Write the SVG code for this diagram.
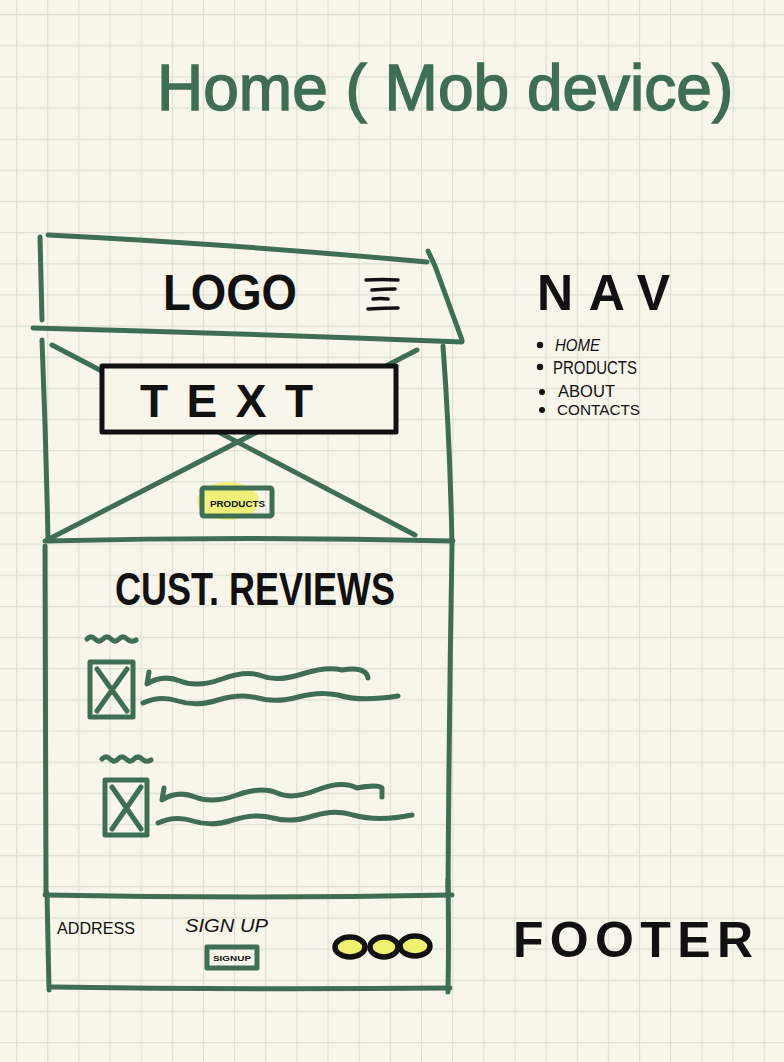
<svg xmlns="http://www.w3.org/2000/svg" width="784" height="1062" viewBox="0 0 784 1062">
  <defs>
    <pattern id="grid" x="16" y="14" width="31.15" height="31.15" patternUnits="userSpaceOnUse">
      <path d="M0.5,0 V31.15 M0,0.5 H31.15" fill="none" stroke="#DCDFD2" stroke-width="1.3"/>
    </pattern>
    <style>
      .pen { fill: none; stroke: #3E6E54; stroke-width: 5; stroke-linecap: round; stroke-linejoin: round; }
      .ink { fill: none; stroke: #111; stroke-linecap: round; stroke-linejoin: round; }
      .marker { font-family: "Liberation Sans", Arial, sans-serif; font-weight: bold; fill: #111; }
      .thin { font-family: "Liberation Sans", Arial, sans-serif; fill: #111; }
      .tiny { font-family: "Liberation Sans", Arial, sans-serif; fill: #111; font-weight: bold; }
      .hl { fill: #EEF06E; }
    </style>
  </defs>

  <!-- paper -->
  <rect width="784" height="1062" fill="#F8F6EA"/>
  <rect width="784" height="1062" fill="url(#grid)"/>

  <!-- page title -->
  <g id="title">
    <text x="157" y="110" font-family="Liberation Sans, Arial, sans-serif" font-size="64" fill="#3E6E54" stroke="#3E6E54" stroke-width="1.5">Home ( Mob device)</text>
  </g>

  <!-- header bar: logo + menu icon -->
  <g id="header">
    <path class="pen" d="M48,235 Q230,244 427,262"/>
    <path class="pen" d="M40,237 Q41,280 42,320"/>
    <path class="pen" d="M428,251 L435,266 Q448,302 462,340"/>
    <path class="pen" d="M33,328 Q230,333 462,342"/>
    <text class="marker" x="163" y="310" font-size="50" textLength="134" lengthAdjust="spacingAndGlyphs">LOGO</text>
    <g class="ink" stroke-width="3.5">
      <path d="M366,280 Q382,279 398,280"/>
      <path d="M372,290 Q384,289 395,289"/>
      <path d="M373,299 Q380,298 388,299"/>
      <path d="M368,309 Q384,308 398,308"/>
    </g>
  </g>

  <!-- hero: image placeholder, headline, products button -->
  <g id="hero">
    <path class="pen" d="M42,340 Q46,440 48,540"/>
    <path class="pen" d="M443,346 Q450,440 452,545"/>
    <path class="pen" d="M52,345 L415,535"/>
    <path class="pen" d="M417,350 L47,540"/>
    <path class="pen" d="M45,541 Q250,536 453,541"/>
    <rect x="102" y="366" width="294" height="66" fill="#F8F6EA" stroke="#111" stroke-width="5" stroke-linejoin="round"/>
    <text class="marker" x="140" y="417" font-size="46" textLength="173" lengthAdjust="spacing">TEXT</text>
    <ellipse class="hl" cx="228" cy="501" rx="31" ry="19" opacity="0.9"/>
    <rect x="202" y="488" width="70" height="28" rx="2" class="pen" fill="#EEF06E"/>
    <text class="tiny" x="210" y="507" font-size="9" textLength="55" lengthAdjust="spacingAndGlyphs">PRODUCTS</text>
  </g>

  <!-- customer reviews -->
  <g id="reviews">
    <path class="pen" d="M45,546 Q46,720 46,895"/>
    <path class="pen" d="M452,546 Q449,720 448,895"/>
    <text class="marker" x="115" y="605" font-size="46" textLength="280" lengthAdjust="spacingAndGlyphs">CUST. REVIEWS</text>

    <!-- review 1 -->
    <path class="pen" d="M87,639 q4,-4 8,0 t8,0 t8,0 t8,0 t8,0 t9,1" stroke-width="4"/>
    <rect class="pen" x="90" y="662" width="43" height="55" stroke-width="6"/>
    <path class="pen" d="M97,669 L127,711 M127,669 L97,711" stroke-width="4"/>
    <path class="pen" d="M149,672 L147,684 Q163,674 180,681 T222,679 T262,676 T302,674 T342,670 Q366,666 368,678"/>
    <path class="pen" d="M143,703 Q160,695 178,701 T218,700 T258,698 T298,697 T338,695 Q360,702 398,696"/>

    <!-- review 2 -->
    <path class="pen" d="M102,759 q4,-4 8,0 t8,0 t8,0 t8,0 t8,0 t9,1" stroke-width="4"/>
    <rect class="pen" x="105" y="780" width="42" height="55" stroke-width="6"/>
    <path class="pen" d="M112,787 L141,829 M141,787 L112,829" stroke-width="4"/>
    <path class="pen" d="M164,788 L162,800 Q178,790 195,797 T237,795 T277,793 T317,790 T357,788 Q378,784 382,788 L382,797"/>
    <path class="pen" d="M158,823 Q175,815 193,821 T233,820 T273,818 T313,816 T353,815 Q378,822 412,815"/>
  </g>

  <!-- footer bar -->
  <g id="footer">
    <path class="pen" d="M45,895 Q250,899 452,895"/>
    <path class="pen" d="M47,893 Q48,945 49,990"/>
    <path class="pen" d="M448,880 Q449,940 448,992"/>
    <path class="pen" d="M52,987 Q250,990 450,988"/>
    <text class="thin" x="57" y="934" font-size="16" textLength="78" lengthAdjust="spacingAndGlyphs">ADDRESS</text>
    <text class="thin" x="185" y="932" font-size="18" font-style="italic" textLength="83" lengthAdjust="spacingAndGlyphs">SIGN UP</text>
    <rect x="207" y="947" width="50" height="21" class="pen" fill="#EEF06E" stroke-width="4"/>
    <text class="tiny" x="213" y="961" font-size="8" textLength="38" lengthAdjust="spacingAndGlyphs">SIGNUP</text>
    <g fill="#EEF06E" stroke="#111" stroke-width="5.5">
      <ellipse cx="350" cy="947" rx="15" ry="10"/>
      <ellipse cx="384" cy="947" rx="14" ry="10"/>
      <ellipse cx="415" cy="946" rx="15" ry="10"/>
    </g>
  </g>

  <!-- navigation notes -->
  <g id="nav">
    <text class="marker" x="537" y="310" font-size="50" textLength="133" lengthAdjust="spacing">NAV</text>
    <g fill="#111">
      <circle cx="540" cy="345" r="3.2"/>
      <circle cx="540" cy="367" r="3.2"/>
      <circle cx="542" cy="392" r="3"/>
      <circle cx="542" cy="410" r="3"/>
    </g>
    <g class="thin">
      <text x="555" y="351" font-size="16" font-style="italic" textLength="45" lengthAdjust="spacingAndGlyphs">HOME</text>
      <text x="553" y="374" font-size="18" textLength="84" lengthAdjust="spacingAndGlyphs">PRODUCTS</text>
      <text x="558" y="397" font-size="16" textLength="57" lengthAdjust="spacingAndGlyphs">ABOUT</text>
      <text x="557" y="415" font-size="15" textLength="83" lengthAdjust="spacingAndGlyphs">CONTACTS</text>
    </g>
  </g>

  <!-- footer label -->
  <g id="footer-label">
    <text class="marker" x="513" y="957" font-size="50" textLength="240" lengthAdjust="spacing">FOOTER</text>
  </g>
</svg>
